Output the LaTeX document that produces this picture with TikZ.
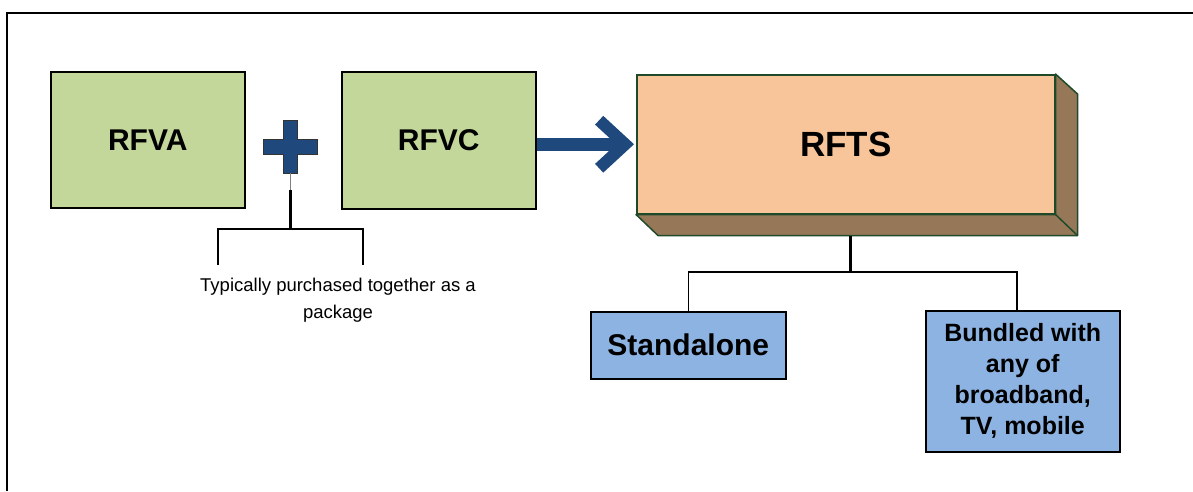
\documentclass[tikz,border=0pt]{standalone}
\usepackage{fontspec}
\setmainfont{Liberation Sans}
\usetikzlibrary{arrows.meta,calc}

\definecolor{pkggreen}{RGB}{196,215,155}
\definecolor{rftsfront}{RGB}{248,196,154}
\definecolor{rftsside}{RGB}{150,119,88}
\definecolor{rftsedge}{RGB}{31,74,42}
\definecolor{optblue}{RGB}{141,179,226}
\definecolor{darkblue}{RGB}{31,73,125}

\tikzset{
    pkgbox/.style={draw=black, line width=1.5pt, fill=pkggreen, inner sep=0pt,
        anchor=north west, minimum width=194pt, minimum height=136pt,
        font=\fontsize{30}{35}\selectfont\bfseries},
    optbox/.style={draw=black, line width=1.5pt, fill=optblue, inner sep=0pt,
        anchor=north west, align=center},
    bigarrow/.style={darkblue, line width=13pt,
        -{Straight Barb[length=26pt, width=48pt, line width=12pt]}},
    link/.style={black, line width=1.5pt},
    stem/.style={black, line width=3pt}
}

\begin{document}
\begin{tikzpicture}[x=1pt, y=-1pt]
    \useasboundingbox (0, 0) rectangle (1193, 491);
    % frame
    \draw [line width=2pt] (7, 491) -- (7, 13) -- (1193, 13);

    % the two components
    \node [pkgbox] (rfva) at (50, 71) {RFVA};
    \node [pkgbox, minimum height=137pt] (rfvc) at (341, 71) {RFVC};

    % plus sign
    \filldraw [fill=darkblue, draw=black!80, line width=0.6pt]
        (283, 120) -- (297, 120) -- (297, 139) -- (317, 139) -- (317, 154)
        -- (297, 154) -- (297, 173) -- (283, 173) -- (283, 154) -- (263, 154)
        -- (263, 139) -- (283, 139) -- cycle;
    \coordinate (plus) at (290, 173);
    \coordinate (plusstem) at (290, 190);
    \coordinate (pkgjoin) at (290, 229);
    \coordinate (pkgleft) at (218, 265);
    \coordinate (pkgright) at (363, 265);

    \draw [black!50, line width=0.8pt] (plus) -- (plusstem);
    \draw [stem] (plusstem) -- (pkgjoin);
    \draw [link] (pkgleft) |- (pkgjoin) -| (pkgright);

    \node [font=\fontsize{18.5}{27}\selectfont, align=center] (note) at (338, 300)
        {Typically purchased together as a\\package};

    % the package
    \node [draw=rftsedge, line width=1.5pt, fill=rftsfront, inner sep=0pt,
        anchor=north west, minimum width=418pt, minimum height=139pt,
        font=\fontsize{35}{40}\selectfont\bfseries] (rfts) at (636, 74) {RFTS};
    \filldraw [fill=rftsside, draw=rftsedge, line width=1.5pt, line join=round]
        (rfts.north east) -- ++(22, 20) -- ($(rfts.south east) + (22, 21)$)
        -- ($(rfts.south west) + (22, 21)$) -- (rfts.south west)
        -- (rfts.south east) -- cycle;
    \draw [rftsedge, line width=1.5pt] (rfts.south east) -- ++(22, 21);

    \draw [bigarrow] (rfvc.east |- rfts.west) -- ([xshift=-2pt]rfts.west);

    % the two ways to buy it
    \node [optbox, minimum width=195pt, minimum height=67pt,
        font=\fontsize{30}{35}\selectfont\bfseries] (standalone) at (590, 311) {Standalone};
    \node [optbox, minimum width=194pt, minimum height=141pt,
        font=\fontsize{25}{31}\selectfont\bfseries] (bundled) at (925, 310)
        {Bundled with\\any of\\broadband,\\TV, mobile};

    \coordinate (rftsbase) at ($(rfts.south) + (0, 21)$);
    \coordinate (optjoin) at (850, 272);
    \draw [stem] (rftsbase -| optjoin) -- (optjoin);
    \draw [link] (standalone.north) |- (optjoin) -| ([xshift=-6pt]bundled.north);
\end{tikzpicture}
\end{document}
